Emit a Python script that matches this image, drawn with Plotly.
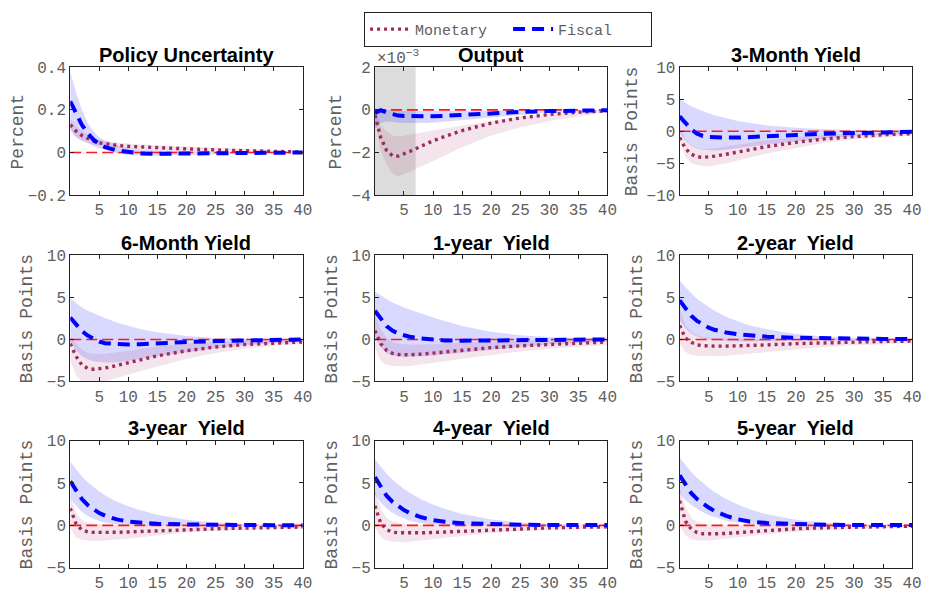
import plotly.graph_objects as go

# Impulse-response horizons (quarters)
h = [0, 1, 2, 3, 4, 5, 6, 8, 10, 12, 15, 20, 25, 30, 35, 40]

# Policy Uncertainty (percent)
pu_mon = [0.13, 0.10, 0.08, 0.065, 0.053, 0.045, 0.04, 0.034, 0.029, 0.026, 0.022, 0.017, 0.012, 0.008, 0.004, 0.002]
pu_mon_lo = [0.10, 0.075, 0.058, 0.046, 0.036, 0.03, 0.026, 0.02, 0.016, 0.013, 0.01, 0.006, 0.003, 0.001, 0.0, -0.001]
pu_mon_hi = [0.16, 0.125, 0.1, 0.083, 0.07, 0.06, 0.054, 0.047, 0.042, 0.038, 0.034, 0.028, 0.021, 0.015, 0.009, 0.005]
pu_fis = [0.24, 0.18, 0.13, 0.09, 0.06, 0.04, 0.025, 0.01, 0.002, -0.004, -0.006, -0.005, -0.003, -0.002, -0.001, 0.0]
pu_fis_lo = [0.11, 0.07, 0.055, 0.045, 0.03, 0.02, 0.01, -0.005, -0.012, -0.015, -0.015, -0.012, -0.008, -0.005, -0.003, -0.002]
pu_fis_hi = [0.38, 0.28, 0.2, 0.14, 0.1, 0.07, 0.055, 0.035, 0.02, 0.014, 0.01, 0.005, 0.003, 0.002, 0.001, 0.001]

# Output (percent, x 10^-3)
out_mon = [-0.25, -1.3, -1.9, -2.15, -2.17, -2.08, -1.95, -1.7, -1.45, -1.25, -0.97, -0.62, -0.38, -0.22, -0.11, -0.05]
out_mon_lo = [-0.5, -1.92, -2.55, -2.98, -3.12, -3.02, -2.9, -2.65, -2.4, -2.15, -1.75, -1.2, -0.82, -0.52, -0.3, -0.1]
out_mon_hi = [0.0, -0.72, -1.0, -1.2, -1.25, -1.22, -1.15, -1.05, -0.95, -0.88, -0.75, -0.52, -0.32, -0.18, -0.09, -0.03]
out_fis = [-0.15, -0.02, -0.12, -0.22, -0.27, -0.29, -0.3, -0.3, -0.3, -0.28, -0.23, -0.15, -0.1, -0.06, -0.035, -0.02]
out_fis_lo = [-0.9, -0.6, -0.55, -0.57, -0.6, -0.62, -0.62, -0.62, -0.6, -0.56, -0.49, -0.36, -0.24, -0.14, -0.08, -0.04]
out_fis_hi = [0.05, 0.05, 0.0, -0.02, -0.04, -0.05, -0.05, -0.05, -0.05, -0.05, -0.04, -0.03, -0.02, -0.01, -0.005, 0.0]
out_shade_end = 7

# 3-Month Yield (basis points)
m3_mon = [-1.0, -2.7, -3.6, -4.0, -4.1, -4.05, -3.9, -3.6, -3.25, -2.9, -2.4, -1.75, -1.2, -0.85, -0.55, -0.4]
m3_mon_lo = [-1.5, -4.0, -5.0, -5.3, -5.45, -5.5, -5.35, -5.0, -4.6, -4.15, -3.5, -2.6, -1.8, -1.3, -0.95, -0.7]
m3_mon_hi = [0.5, -1.3, -2.2, -2.6, -2.8, -2.8, -2.7, -2.4, -2.1, -1.8, -1.4, -0.95, -0.6, -0.4, -0.2, -0.1]
m3_fis = [2.3, 1.2, 0.3, -0.4, -0.75, -0.9, -0.97, -1.0, -1.0, -0.95, -0.82, -0.6, -0.4, -0.27, -0.16, -0.1]
m3_fis_lo = [-0.3, -1.5, -2.3, -2.7, -2.9, -3.0, -3.0, -2.9, -2.7, -2.45, -2.1, -1.6, -1.2, -0.85, -0.6, -0.4]
m3_fis_hi = [5.0, 4.4, 3.9, 3.5, 3.1, 2.8, 2.5, 2.0, 1.6, 1.3, 0.9, 0.55, 0.3, 0.18, 0.1, 0.05]

# 6-Month Yield
m6_mon = [-0.5, -2.0, -3.05, -3.45, -3.55, -3.5, -3.4, -3.1, -2.75, -2.4, -1.95, -1.35, -0.9, -0.6, -0.42, -0.3]
m6_mon_lo = [-2.5, -4.3, -5.0, -5.3, -5.35, -5.2, -5.0, -4.6, -4.2, -3.8, -3.2, -2.3, -1.6, -1.1, -0.75, -0.55]
m6_mon_hi = [0.5, -0.5, -1.2, -1.6, -1.7, -1.75, -1.7, -1.55, -1.35, -1.15, -0.85, -0.5, -0.3, -0.15, -0.1, -0.05]
m6_fis = [2.6, 1.8, 1.0, 0.45, 0.05, -0.25, -0.45, -0.58, -0.6, -0.58, -0.45, -0.3, -0.2, -0.12, -0.06, 0.0]
m6_fis_lo = [-0.3, -1.3, -2.0, -2.4, -2.6, -2.7, -2.75, -2.7, -2.55, -2.35, -2.0, -1.5, -1.05, -0.7, -0.45, -0.3]
m6_fis_hi = [4.9, 4.3, 3.8, 3.4, 3.1, 2.8, 2.55, 2.0, 1.6, 1.25, 0.85, 0.42, 0.18, 0.08, 0.03, 0.01]

# 1-year Yield
y1_mon = [1.05, -0.5, -1.3, -1.65, -1.8, -1.85, -1.83, -1.75, -1.62, -1.5, -1.28, -0.98, -0.76, -0.6, -0.46, -0.3]
y1_mon_lo = [-1.0, -2.6, -3.0, -3.15, -3.2, -3.2, -3.15, -3.0, -2.8, -2.6, -2.3, -1.85, -1.45, -1.1, -0.85, -0.65]
y1_mon_hi = [3.0, 1.2, 0.2, -0.3, -0.5, -0.6, -0.62, -0.6, -0.55, -0.5, -0.4, -0.25, -0.15, -0.1, -0.05, 0.0]
y1_fis = [3.4, 2.4, 1.6, 1.05, 0.7, 0.5, 0.32, 0.1, -0.02, -0.12, -0.15, -0.12, -0.08, -0.06, -0.04, 0.0]
y1_fis_lo = [0.3, -1.0, -1.6, -1.9, -2.0, -2.05, -2.05, -2.0, -1.9, -1.8, -1.6, -1.25, -0.9, -0.6, -0.4, -0.25]
y1_fis_hi = [5.7, 5.2, 4.8, 4.4, 4.05, 3.8, 3.55, 3.05, 2.6, 2.2, 1.6, 0.9, 0.5, 0.28, 0.14, 0.08]

# 2-year Yield
y2_mon = [1.65, 0.15, -0.35, -0.65, -0.75, -0.8, -0.8, -0.8, -0.78, -0.73, -0.65, -0.5, -0.38, -0.3, -0.24, -0.2]
y2_mon_lo = [-0.5, -1.5, -1.85, -1.95, -2.0, -2.0, -2.0, -1.95, -1.85, -1.75, -1.55, -1.2, -0.9, -0.7, -0.55, -0.45]
y2_mon_hi = [3.8, 1.7, 0.9, 0.5, 0.3, 0.2, 0.15, 0.1, 0.1, 0.08, 0.05, 0.02, 0.0, 0.0, 0.0, 0.0]
y2_fis = [4.65, 3.7, 2.8, 2.2, 1.75, 1.4, 1.15, 0.82, 0.62, 0.48, 0.33, 0.2, 0.13, 0.09, 0.06, 0.05]
y2_fis_lo = [2.3, 1.3, 0.7, 0.35, 0.15, 0.0, -0.1, -0.2, -0.25, -0.25, -0.25, -0.2, -0.15, -0.1, -0.08, -0.05]
y2_fis_hi = [7.0, 6.2, 5.5, 4.8, 4.3, 3.8, 3.4, 2.7, 2.15, 1.7, 1.2, 0.65, 0.35, 0.2, 0.12, 0.08]

# 3-year Yield
y3_mon = [2.0, 0.2, -0.55, -0.75, -0.83, -0.85, -0.85, -0.82, -0.78, -0.72, -0.62, -0.5, -0.4, -0.32, -0.25, -0.2]
y3_mon_lo = [-0.3, -1.4, -1.7, -1.8, -1.85, -1.85, -1.8, -1.7, -1.55, -1.4, -1.15, -0.85, -0.65, -0.5, -0.4, -0.35]
y3_mon_hi = [3.5, 1.5, 0.6, 0.3, 0.15, 0.08, 0.05, 0.05, 0.04, 0.03, 0.02, 0.01, 0.0, 0.0, 0.0, 0.0]
y3_fis = [5.2, 4.1, 3.1, 2.4, 1.85, 1.45, 1.15, 0.7, 0.45, 0.3, 0.18, 0.1, 0.05, 0.03, 0.02, 0.02]
y3_fis_lo = [3.2, 2.3, 1.6, 1.1, 0.75, 0.5, 0.3, 0.1, 0.0, -0.05, -0.08, -0.08, -0.07, -0.06, -0.05, -0.04]
y3_fis_hi = [7.5, 6.6, 5.8, 5.1, 4.5, 4.0, 3.55, 2.8, 2.25, 1.8, 1.25, 0.65, 0.33, 0.17, 0.1, 0.06]

# 4-year Yield
y4_mon = [2.3, 0.25, -0.5, -0.8, -0.88, -0.9, -0.9, -0.88, -0.84, -0.78, -0.68, -0.52, -0.4, -0.3, -0.22, -0.18]
y4_mon_lo = [-0.2, -1.4, -1.8, -1.95, -2.0, -2.0, -1.95, -1.85, -1.7, -1.5, -1.25, -0.9, -0.68, -0.52, -0.42, -0.36]
y4_mon_hi = [4.2, 2.0, 0.9, 0.45, 0.25, 0.15, 0.1, 0.08, 0.06, 0.05, 0.04, 0.02, 0.0, 0.0, 0.0, 0.0]
y4_fis = [5.7, 4.5, 3.5, 2.8, 2.25, 1.8, 1.45, 0.95, 0.62, 0.42, 0.25, 0.12, 0.07, 0.05, 0.04, 0.03]
y4_fis_lo = [3.6, 2.7, 2.0, 1.5, 1.1, 0.8, 0.55, 0.25, 0.1, 0.0, -0.05, -0.06, -0.05, -0.04, -0.04, -0.03]
y4_fis_hi = [7.8, 6.9, 6.1, 5.4, 4.8, 4.3, 3.85, 3.05, 2.45, 1.95, 1.35, 0.7, 0.35, 0.18, 0.1, 0.06]

# 5-year Yield
y5_mon = [2.9, 0.5, -0.45, -0.85, -1.0, -1.02, -1.0, -0.95, -0.85, -0.75, -0.58, -0.4, -0.28, -0.2, -0.15, -0.1]
y5_mon_lo = [0.0, -1.2, -1.6, -1.75, -1.8, -1.8, -1.75, -1.6, -1.45, -1.3, -1.05, -0.75, -0.55, -0.42, -0.33, -0.28]
y5_mon_hi = [4.5, 2.2, 0.9, 0.4, 0.15, 0.05, 0.0, 0.0, 0.0, 0.0, 0.0, 0.0, 0.0, 0.0, 0.0, 0.0]
y5_fis = [5.9, 4.75, 3.8, 3.1, 2.55, 2.1, 1.7, 1.12, 0.72, 0.46, 0.27, 0.12, 0.07, 0.05, 0.04, 0.03]
y5_fis_lo = [3.8, 3.0, 2.4, 1.95, 1.55, 1.2, 0.95, 0.55, 0.3, 0.15, 0.02, -0.05, -0.06, -0.05, -0.04, -0.03]
y5_fis_hi = [8.0, 7.1, 6.3, 5.6, 5.0, 4.45, 3.95, 3.1, 2.45, 1.9, 1.3, 0.65, 0.32, 0.16, 0.09, 0.05]

titles = ["Policy Uncertainty", "Output", "3-Month Yield",
          "6-Month Yield", "1-year  Yield", "2-year  Yield",
          "3-year  Yield", "4-year  Yield", "5-year  Yield"]
ylabels = ["Percent", "Percent"] + ["Basis Points"] * 7
yranges = [[-0.2, 0.4], [-4, 2], [-10, 10]] + [[-5, 10]] * 6
yticks = [[-0.2, 0, 0.2, 0.4], [-4, -2, 0, 2], [-10, -5, 0, 5, 10]] + [[-5, 0, 5, 10]] * 6
xticks = [5, 10, 15, 20, 25, 30, 35, 40]

series = [
    (pu_mon, pu_mon_lo, pu_mon_hi, pu_fis, pu_fis_lo, pu_fis_hi),
    (out_mon, out_mon_lo, out_mon_hi, out_fis, out_fis_lo, out_fis_hi),
    (m3_mon, m3_mon_lo, m3_mon_hi, m3_fis, m3_fis_lo, m3_fis_hi),
    (m6_mon, m6_mon_lo, m6_mon_hi, m6_fis, m6_fis_lo, m6_fis_hi),
    (y1_mon, y1_mon_lo, y1_mon_hi, y1_fis, y1_fis_lo, y1_fis_hi),
    (y2_mon, y2_mon_lo, y2_mon_hi, y2_fis, y2_fis_lo, y2_fis_hi),
    (y3_mon, y3_mon_lo, y3_mon_hi, y3_fis, y3_fis_lo, y3_fis_hi),
    (y4_mon, y4_mon_lo, y4_mon_hi, y4_fis, y4_fis_lo, y4_fis_hi),
    (y5_mon, y5_mon_lo, y5_mon_hi, y5_fis, y5_fis_lo, y5_fis_hi),
]

W, H = 933, 602
col_px = [(71, 306), (379, 614), (687, 922)]
row_px = [(62, 194), (256, 386), (447, 578)]
ylab_px = [[18.5, 340, 639], [27.5, 336, 644], [27.5, 336, 644]]

MON = "#9e2a5e"
FIS = "#0000ff"
MON_BAND = "rgba(158,42,94,0.12)"
FIS_BAND = "rgba(0,0,255,0.15)"
TXT = "#5e5e5e"
MONO = "Liberation Mono, Courier New, monospace"
SANS = "Liberation Sans, Arial, Helvetica, sans-serif"

fig = go.Figure()
layout = dict(
    width=W, height=H, margin=dict(l=0, r=0, t=0, b=0),
    paper_bgcolor="white", plot_bgcolor="white",
    showlegend=True, annotations=[], shapes=[],
)

for i, (mon, mon_lo, mon_hi, fis, fis_lo, fis_hi) in enumerate(series):
    r, c = divmod(i, 3)
    sfx = "" if i == 0 else str(i + 1)
    xa, ya = "x" + sfx, "y" + sfx
    x0p, x1p = col_px[c]
    top, bot = row_px[r]

    common = dict(xaxis=xa, yaxis=ya, hoverinfo="skip")
    fig.add_trace(go.Scatter(x=h + h[::-1], y=fis_hi + fis_lo[::-1], fill="toself",
                             fillcolor=FIS_BAND, mode="lines", line=dict(width=0),
                             showlegend=False, **common))
    fig.add_trace(go.Scatter(x=h + h[::-1], y=mon_hi + mon_lo[::-1], fill="toself",
                             fillcolor=MON_BAND, mode="lines", line=dict(width=0),
                             showlegend=False, **common))
    fig.add_trace(go.Scatter(x=h, y=[0] * len(h), mode="lines",
                             line=dict(color="#ff1a1a", width=1.6, dash="11px,5px"),
                             showlegend=False, **common))
    fig.add_trace(go.Scatter(x=h, y=mon, mode="lines", name="Monetary",
                             line=dict(color=MON, width=3.4, dash="3px,4px"),
                             showlegend=(i == 0), **common))
    fig.add_trace(go.Scatter(x=h, y=fis, mode="lines", name="Fiscal",
                             line=dict(color=FIS, width=4, dash="12px,7px"),
                             showlegend=(i == 0), **common))

    axis_common = dict(showgrid=False, zeroline=False, showline=True,
                       linecolor="#222222", linewidth=1, mirror="ticks",
                       ticks="inside", ticklen=4, tickcolor="#222222",
                       tickfont=dict(family=MONO, size=16, color=TXT))
    layout["xaxis" + sfx] = dict(domain=[x0p / W, x1p / W], range=[0, 40],
                                 tickvals=xticks, anchor=ya, **axis_common)
    layout["yaxis" + sfx] = dict(domain=[1 - bot / H, 1 - top / H], range=yranges[i],
                                 tickvals=yticks[i], anchor=xa, **axis_common)

    # panel title
    layout["annotations"].append(dict(
        text="<b>%s</b>" % titles[i], xref="paper", yref="paper",
        x=(x0p + x1p) / 2 / W, y=1 - (top - 13) / H, xanchor="center", yanchor="middle",
        showarrow=False, font=dict(family=SANS, size=20, color="black")))
    # y-axis label
    layout["annotations"].append(dict(
        text=ylabels[i], xref="paper", yref="paper", textangle=-90,
        x=ylab_px[r][c] / W, y=1 - (top + bot) / 2 / H, xanchor="center", yanchor="middle",
        showarrow=False, font=dict(family=MONO, size=18, color=TXT)))

# shaded window on the output panel
layout["shapes"].append(dict(type="rect", xref="x2", yref="y2 domain",
                             x0=0, x1=out_shade_end, y0=0, y1=1,
                             fillcolor="#dcdcdc", line=dict(width=0), layer="below"))
# exponent label of the output axis
layout["annotations"].append(dict(
    text="\u00d710<sup>\u22123</sup>", xref="paper", yref="paper",
    x=379 / W, y=1 - 52 / H, xanchor="left", yanchor="middle",
    showarrow=False, font=dict(family=MONO, size=16, color=TXT)))

layout["legend"] = dict(orientation="h", x=368 / W, y=1 - 5 / H,
                        xanchor="left", yanchor="top",
                        bgcolor="white", bordercolor="#222222", borderwidth=1,
                        font=dict(family=MONO, size=15, color=TXT),
                        itemwidth=40, entrywidth=88, tracegroupgap=0)

fig.update_layout(**layout)
fig.write_html("out.html")
